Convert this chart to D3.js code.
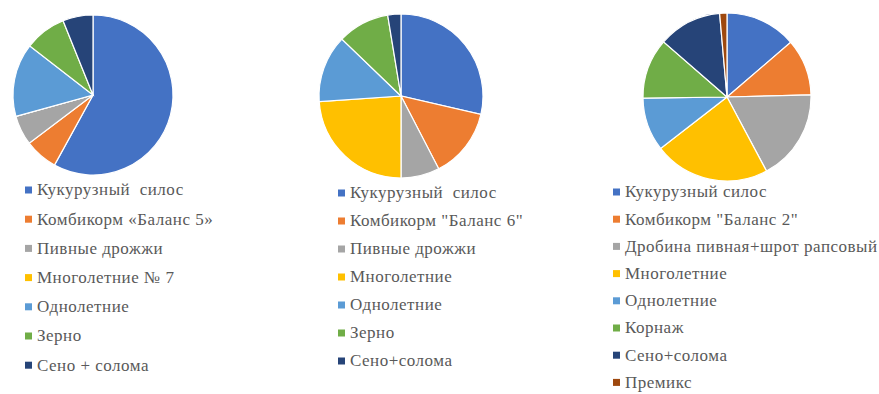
<!DOCTYPE html>
<html>
<head>
<meta charset="utf-8">
<script src="https://cdn.jsdelivr.net/npm/d3@7"></script>
<style>
  body { margin: 0; background: #fff; }
  svg { display: block; }
</style>
</head>
<body>
<svg id="chart"></svg>
<script>
const width = 879;
const height = 394;

// рационы (доля в %)
const labels1 = ["Кукурузный  силос", "Комбикорм «Баланс 5»", "Пивные дрожжи", "Многолетние № 7", "Однолетние", "Зерно", "Сено + солома"];
const values1 = [58, 6.7, 6, 0, 14.8, 8.4, 6.1];

const labels2 = ["Кукурузный  силос", "Комбикорм \"Баланс 6\"", "Пивные дрожжи", "Многолетние", "Однолетние", "Зерно", "Сено+солома"];
const values2 = [28.6, 13.8, 7.6, 23.9, 13.3, 10.2, 2.6];

const labels3 = ["Кукурузный силос", "Комбикорм \"Баланс 2\"", "Дробина пивная+шрот рапсовый", "Многолетние", "Однолетние", "Корнаж", "Сено+солома", "Премикс"];
const values3 = [13.7, 10.9, 17.6, 22.3, 10.3, 11.6, 12.2, 1.4];

const colors = ["#4472C4", "#ED7D31", "#A5A5A5", "#FFC000", "#5B9BD5", "#70AD47", "#264478", "#9E480E"];

const svg = d3.select("#chart")
  .attr("width", width)
  .attr("height", height);

const charts = [
  { labels: labels1, values: values1, cx: 93, cy: 95, r: 80, lx: 25, ly: 190, step: 29.2 },
  { labels: labels2, values: values2, cx: 401, cy: 96, r: 82, lx: 338, ly: 193, step: 28 },
  { labels: labels3, values: values3, cx: 727, cy: 97, r: 84, lx: 613, ly: 192, step: 27.2 }
];

const pie = d3.pie().sort(null).value(d => d);

charts.forEach(c => {
  const arc = d3.arc().innerRadius(0).outerRadius(c.r);
  const g = svg.append("g").attr("transform", `translate(${c.cx},${c.cy})`);

  g.selectAll("path")
    .data(pie(c.values))
    .join("path")
    .attr("d", arc)
    .attr("fill", (d, i) => colors[i])
    .attr("stroke", "#fff")
    .attr("stroke-width", 1.2);

  const legend = svg.append("g").attr("transform", `translate(${c.lx},${c.ly})`);
  const item = legend.selectAll("g")
    .data(c.labels)
    .join("g")
    .attr("transform", (d, i) => `translate(0,${i * c.step})`);

  item.append("rect")
    .attr("x", 0)
    .attr("y", -3.5)
    .attr("width", 7)
    .attr("height", 7)
    .attr("fill", (d, i) => colors[i]);

  item.append("text")
    .attr("x", 12)
    .attr("dy", "0.32em")
    .attr("font-family", "Liberation Serif")
    .attr("font-size", "17px")
    .attr("letter-spacing", "0.5px")
    .attr("fill", "#595959")
    .style("white-space", "pre")
    .text(d => d);
});
</script>
</body>
</html>
